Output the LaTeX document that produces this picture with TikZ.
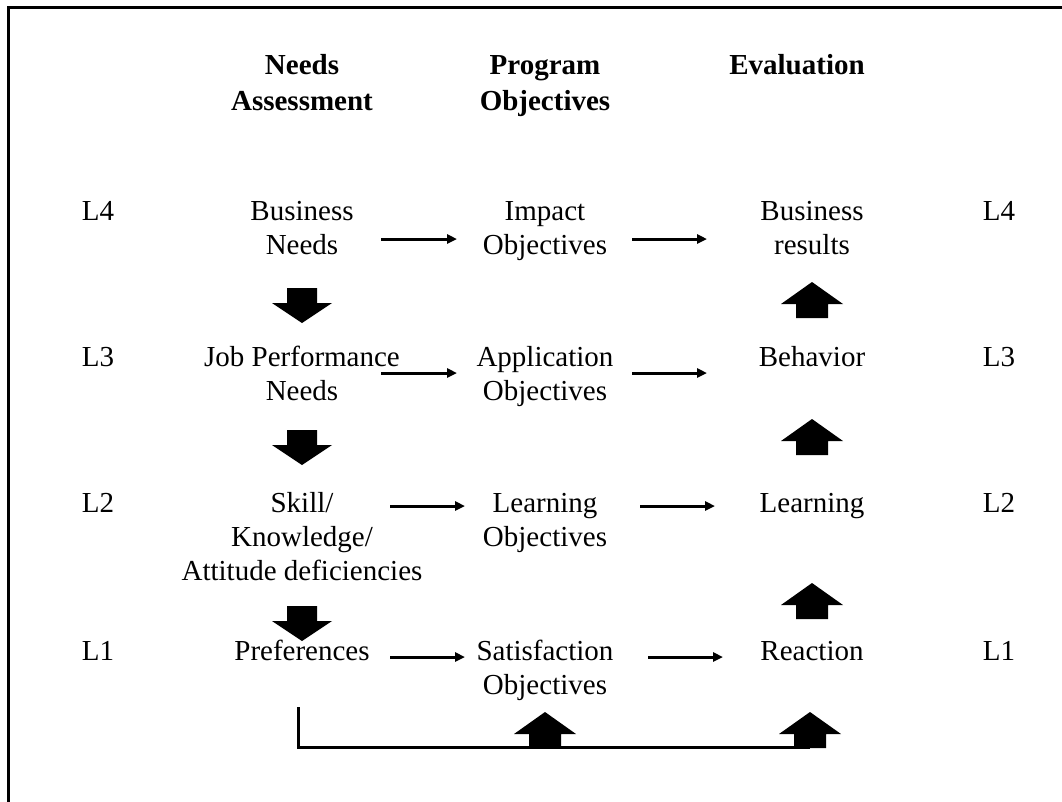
\documentclass[tikz,border=0pt]{standalone}
\usepackage{fontspec}
\setmainfont{Liberation Serif}
\usetikzlibrary{arrows.meta}
\begin{document}
\begin{tikzpicture}[x=1pt,y=-1pt,
  % nodes sit on the baseline of their last line
  lbl/.style={font=\fontsize{29}{34}\selectfont, inner sep=0pt, align=center, anchor=base},
  hdr/.style={lbl, font=\fontsize{29}{36}\selectfont\bfseries},
  flow/.style={line width=3pt, -{Triangle[length=10pt,width=9pt]}},
  rail/.style={line width=3pt},
  down fat/.pic={\fill (-15,0) -- (15,0) -- (15,15) -- (30,15) -- (0,35) -- (-30,15) -- (-15,15) -- cycle;},
  up fat/.pic={\fill (-16,0) -- (16,0) -- (16,-14) -- (31,-14) -- (0,-36) -- (-31,-14) -- (-16,-14) -- cycle;}
]
\useasboundingbox (0,0) rectangle (1062,801);
\clip (0,0) rectangle (1062,801);

% frame (open on the right and at the bottom)
\draw[rail] (8.5,820) -- (8.5,7) -- (1080,7);

% column headings
\node[hdr] (hneeds) at (302,110) {Needs\\Assessment};
\node[hdr] (hprog)  at (545,110) {Program\\Objectives};
\node[hdr] (heval)  at (797,74)  {Evaluation};

% level 4
\node[lbl] (l4a) at (98,220)  {L4};
\node[lbl] (bn)  at (302,254) {Business\\Needs};
\node[lbl] (io)  at (545,254) {Impact\\Objectives};
\node[lbl] (br)  at (812,254) {Business\\results};
\node[lbl] (l4b) at (999,220) {L4};

% level 3
\node[lbl] (l3a) at (98,366)  {L3};
\node[lbl] (jp)  at (302,400) {Job Performance\\Needs};
\node[lbl] (ao)  at (545,400) {Application\\Objectives};
\node[lbl] (be)  at (812,366) {Behavior};
\node[lbl] (l3b) at (999,366) {L3};

% level 2
\node[lbl] (l2a) at (98,512)  {L2};
\node[lbl] (sk)  at (302,580) {Skill/\\Knowledge/\\Attitude deficiencies};
\node[lbl] (lo)  at (545,546) {Learning\\Objectives};
\node[lbl] (le)  at (812,512) {Learning};
\node[lbl] (l2b) at (999,512) {L2};

% level 1
\node[lbl] (l1a) at (98,660)  {L1};
\node[lbl] (pr)  at (302,660) {Preferences};
\node[lbl] (so)  at (545,694) {Satisfaction\\Objectives};
\node[lbl] (re)  at (812,660) {Reaction};
\node[lbl] (l1b) at (999,660) {L1};

% thin arrow end points
\coordinate (a4s) at (381,239); \coordinate (a4e) at (457,239);
\coordinate (b4s) at (632,239); \coordinate (b4e) at (707,239);
\coordinate (a3s) at (381,373); \coordinate (a3e) at (457,373);
\coordinate (b3s) at (632,373); \coordinate (b3e) at (707,373);
\coordinate (a2s) at (390,506); \coordinate (a2e) at (465,506);
\coordinate (b2s) at (640,506); \coordinate (b2e) at (715,506);
\coordinate (a1s) at (390,657); \coordinate (a1e) at (465,657);
\coordinate (b1s) at (648,657); \coordinate (b1e) at (723,657);

\draw[flow] (a4s) -- (a4e);
\draw[flow] (b4s) -- (b4e);
\draw[flow] (a3s) -- (a3e);
\draw[flow] (b3s) -- (b3e);
\draw[flow] (a2s) -- (a2e);
\draw[flow] (b2s) -- (b2e);
\draw[flow] (a1s) -- (a1e);
\draw[flow] (b1s) -- (b1e);

% feedback rail
\coordinate (fbs) at (298,707);
\coordinate (fbe) at (810,747);
\draw[rail] (fbs) |- (fbe);

% block arrows
\pic at (302,288) {down fat};
\pic at (302,430) {down fat};
\pic at (302,606) {down fat};
\pic at (812,318) {up fat};
\pic at (812,455) {up fat};
\pic at (812,619) {up fat};
\pic at (545,748) {up fat};
\pic at (810,748) {up fat};
\end{tikzpicture}
\end{document}
